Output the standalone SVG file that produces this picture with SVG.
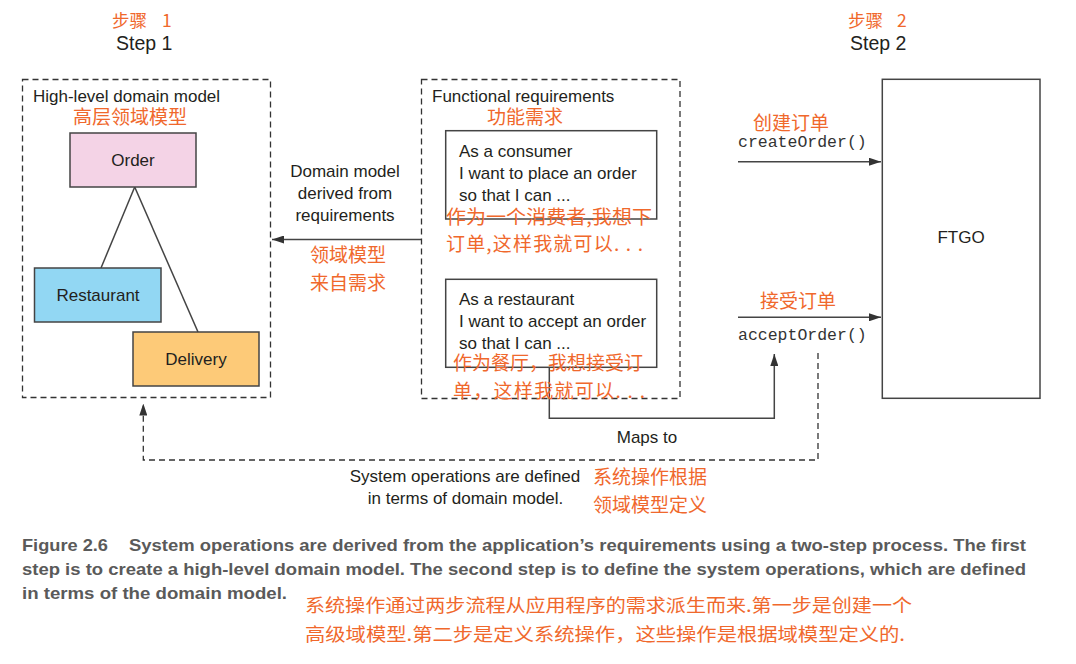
<svg xmlns="http://www.w3.org/2000/svg" width="1076" height="664" viewBox="0 0 1076 664">
<style>
.t{font-family:"Liberation Sans",Arial,sans-serif;font-size:17px;fill:#231f20}
.st{font-family:"Liberation Sans",Arial,sans-serif;font-size:19.5px;fill:#231f20}
.m{font-family:"Liberation Mono","Courier New",monospace;font-size:16.5px;fill:#333}
.cn{font-family:"Noto Sans CJK SC","Noto Sans",sans-serif;font-size:19px;fill:#f0682c}
.cs{font-family:"Noto Sans CJK SC","Noto Sans",sans-serif;font-size:17.5px;fill:#f0682c}
.cc{font-family:"Noto Sans CJK SC","Noto Sans",sans-serif;font-size:18px;fill:#f0682c}
.cap{font-family:"Liberation Sans",Arial,sans-serif;font-size:16.5px;font-weight:bold;fill:#5a5a5a}
.dash{fill:none;stroke:#333;stroke-width:1.3;stroke-dasharray:6 4}
.box{stroke:#444;stroke-width:1.5}
.ln{fill:none;stroke:#444;stroke-width:1.5}
</style>
<defs>
<marker id="arr" viewBox="0 0 12 8" refX="12" refY="4" markerWidth="12" markerHeight="8" markerUnits="userSpaceOnUse" orient="auto"><path d="M0,0 L12,4 L0,8 z" fill="#333"/></marker>
</defs>
<rect width="1076" height="664" fill="#fff"/>

<g id="step1">
<text class="cs" x="112" y="27">步骤</text>
<text class="cs" x="162" y="27">1</text>
<text class="st" x="116" y="50">Step 1</text>
</g>
<g id="step2">
<text class="cs" x="848" y="27">步骤</text>
<text class="cs" x="897" y="27">2</text>
<text class="st" x="850" y="50">Step 2</text>
</g>

<g id="domain-model">
<rect class="dash" x="22.5" y="79.5" width="248" height="318"/>
<text class="t" x="33" y="102">High-level domain model</text>
<text class="cn" x="73" y="124">高层领域模型</text>
</g>

<g id="connectors">
<line class="ln" x1="134.7" y1="187" x2="101" y2="268"/>
<line class="ln" x1="134.7" y1="187" x2="198" y2="332"/>
<line class="ln" x1="421" y1="239.5" x2="272" y2="239.5" marker-end="url(#arr)"/>
<path class="ln" d="M549.3 367.3 V418.3 H774.3 V354" marker-end="url(#arr)"/>
<path class="dash" d="M818 353 V460 H143.3 V403.5" marker-end="url(#arr)"/>
<line class="ln" x1="738" y1="161.7" x2="881" y2="161.7" marker-end="url(#arr)"/>
<line class="ln" x1="738" y1="317.3" x2="881" y2="317.3" marker-end="url(#arr)"/>
</g>

<g id="order">
<rect class="box" x="70" y="133" width="126" height="54" fill="#f4d3e6"/>
<text class="t" x="133" y="166" text-anchor="middle">Order</text>
</g>
<g id="restaurant">
<rect class="box" x="34.5" y="268" width="126.5" height="54" fill="#92d7f3"/>
<text class="t" x="98" y="301" text-anchor="middle">Restaurant</text>
</g>
<g id="delivery">
<rect class="box" x="133" y="332" width="126" height="54" fill="#fdca78"/>
<text class="t" x="196" y="365" text-anchor="middle">Delivery</text>
</g>

<g id="derived-label">
<text class="t" x="345" y="177" text-anchor="middle">Domain model</text>
<text class="t" x="345" y="199" text-anchor="middle">derived from</text>
<text class="t" x="345" y="221" text-anchor="middle">requirements</text>
<text class="cn" x="348" y="262" text-anchor="middle">领域模型</text>
<text class="cn" x="348" y="290" text-anchor="middle">来自需求</text>
</g>

<g id="functional-requirements">
<rect class="dash" x="421.5" y="79.5" width="258.5" height="319"/>
<text class="t" x="432" y="102">Functional requirements</text>
<text class="cn" x="487" y="124">功能需求</text>
</g>
<g id="req-consumer">
<rect class="box" x="445.7" y="130.7" width="211" height="88.3" fill="#fff"/>
<text class="t" x="459" y="157">As a consumer</text>
<text class="t" x="459" y="179">I want to place an order</text>
<text class="t" x="459" y="201">so that I can ...</text>
<text class="cn" x="446" y="224" textLength="206" lengthAdjust="spacingAndGlyphs">作为一个消费者,我想下</text>
<text class="cn" x="446" y="251" textLength="197" lengthAdjust="spacing">订单,这样我就可以. . .</text>
</g>
<g id="req-restaurant">
<rect class="box" x="445.7" y="279.3" width="211" height="88" fill="#fff"/>
<text class="t" x="459" y="305">As a restaurant</text>
<text class="t" x="459" y="327">I want to accept an order</text>
<text class="t" x="459" y="348.5">so that I can ...</text>
<text class="cn" x="453" y="370">作为餐厅，我想接受订</text>
<text class="cn" x="453" y="398" textLength="192" lengthAdjust="spacing">单，这样我就可以. . .</text>
</g>

<g id="ftgo">
<rect class="box" x="882.3" y="79.3" width="157.7" height="319" fill="#fff"/>
<text class="t" x="961" y="243" text-anchor="middle">FTGO</text>
</g>

<g id="op-labels">
<text class="cn" x="753" y="130">创建订单</text>
<text class="m" x="738" y="147">createOrder()</text>
<text class="cn" x="760" y="308">接受订单</text>
<text class="m" x="738" y="340">acceptOrder()</text>
<text class="t" x="647" y="443" text-anchor="middle">Maps to</text>
<text class="t" x="465" y="482" text-anchor="middle">System operations are defined</text>
<text class="t" x="465.5" y="504" text-anchor="middle">in terms of domain model.</text>
<text class="cn" x="593" y="484">系统操作根据</text>
<text class="cn" x="593" y="512">领域模型定义</text>
</g>

<g id="caption">
<text class="cap" x="22" y="551" textLength="86" lengthAdjust="spacingAndGlyphs">Figure 2.6</text>
<text class="cap" x="129" y="551" textLength="897" lengthAdjust="spacingAndGlyphs">System operations are derived from the application’s requirements using a two-step process. The first</text>
<text class="cap" x="22" y="575" textLength="1004" lengthAdjust="spacingAndGlyphs">step is to create a high-level domain model. The second step is to define the system operations, which are defined</text>
<text class="cap" x="22" y="599" textLength="265" lengthAdjust="spacingAndGlyphs">in terms of the domain model.</text>
<text class="cc" x="305" y="612" textLength="607" lengthAdjust="spacingAndGlyphs">系统操作通过两步流程从应用程序的需求派生而来.第一步是创建一个</text>
<text class="cc" x="305" y="641" textLength="600" lengthAdjust="spacingAndGlyphs">高级域模型.第二步是定义系统操作，这些操作是根据域模型定义的.</text>
</g>
</svg>
